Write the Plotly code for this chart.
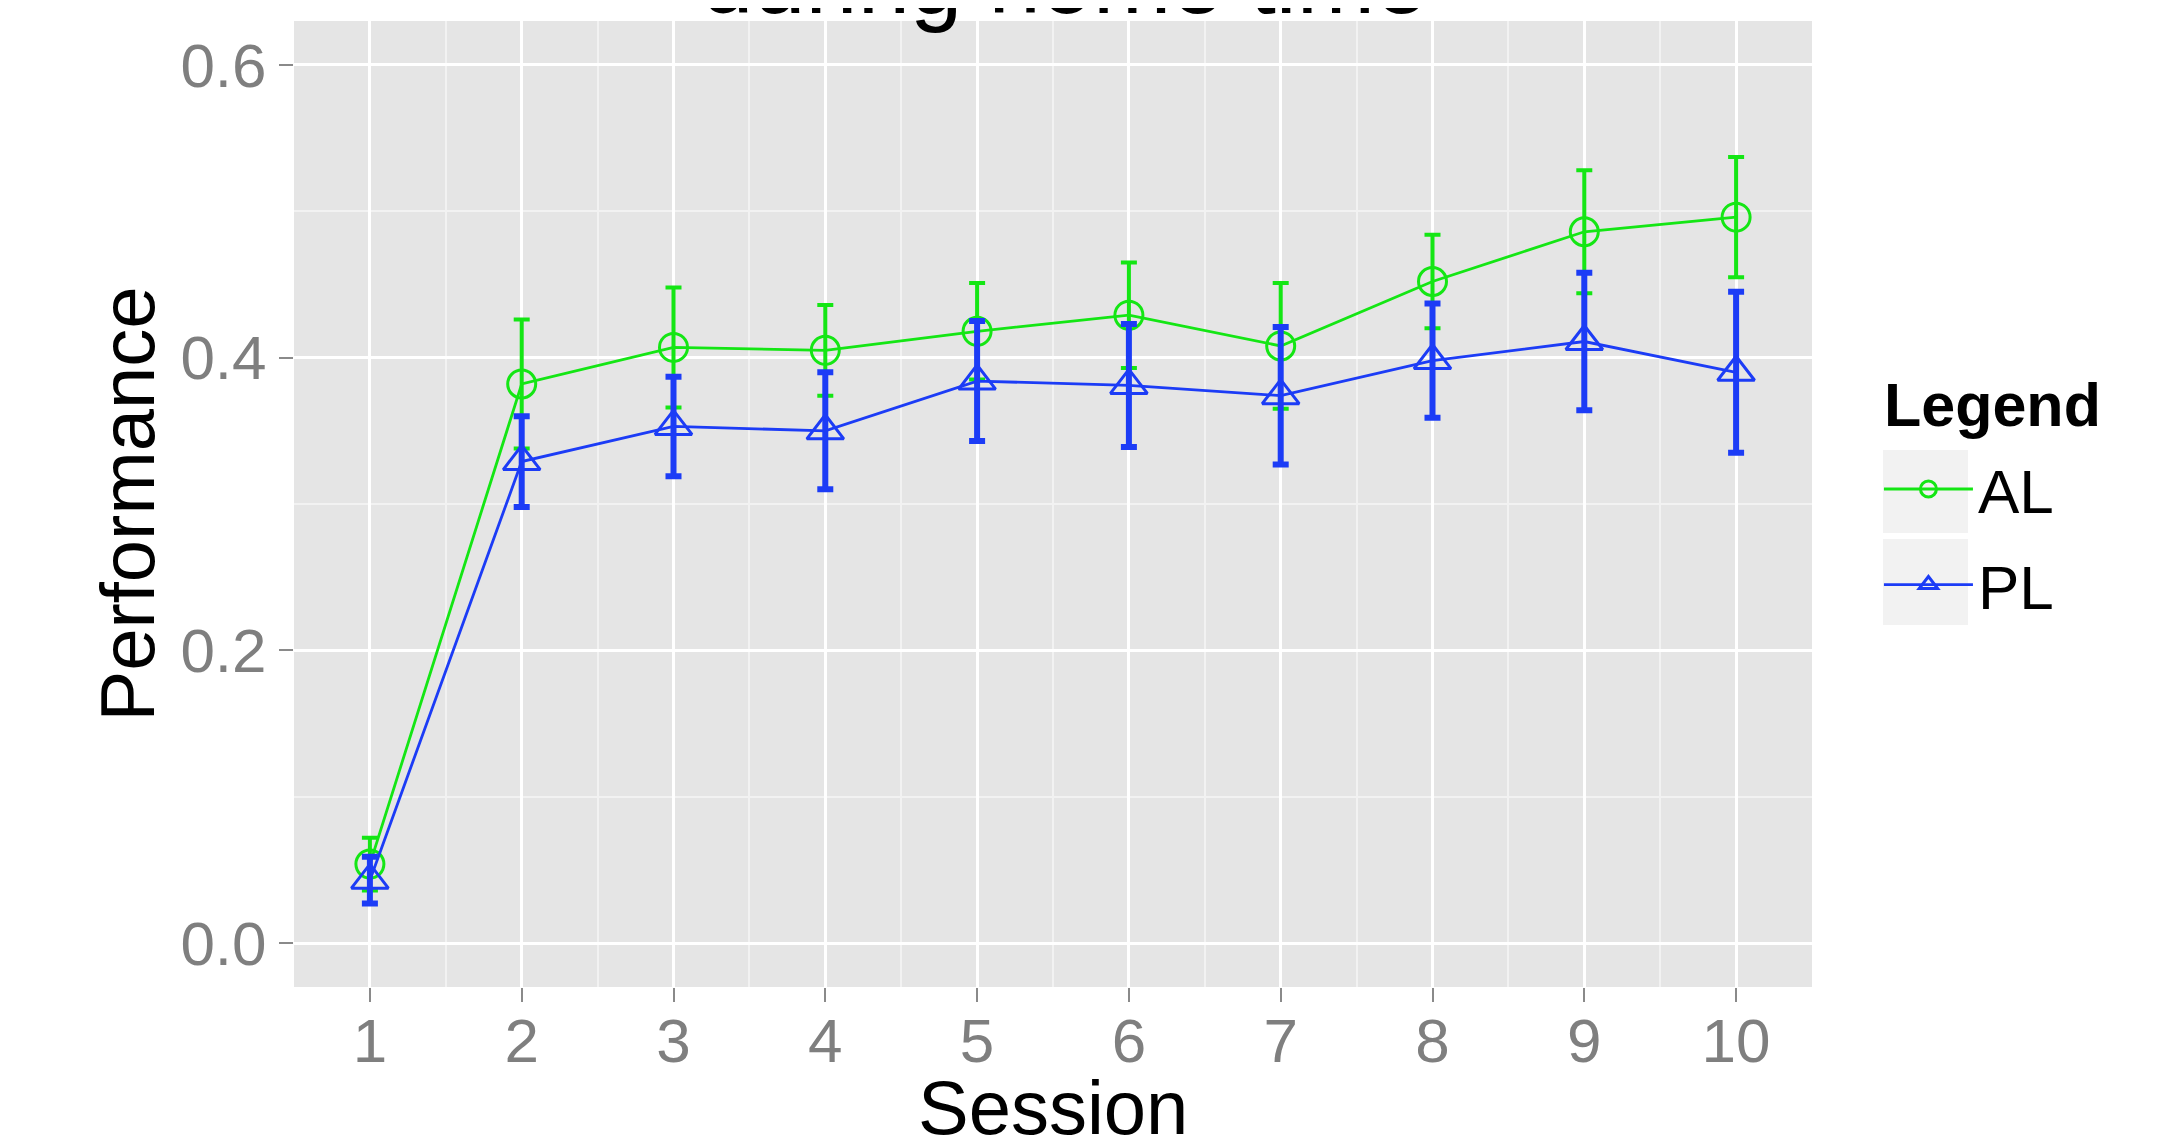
import plotly.graph_objects as go

sessions = [1, 2, 3, 4, 5, 6, 7, 8, 9, 10]
al_mean = [0.054, 0.382, 0.407, 0.405, 0.418, 0.429, 0.408, 0.452, 0.486, 0.496]
al_err = [0.018, 0.044, 0.041, 0.031, 0.033, 0.036, 0.043, 0.032, 0.042, 0.041]
pl_mean = [0.043, 0.329, 0.353, 0.350, 0.384, 0.381, 0.374, 0.398, 0.411, 0.390]
pl_err = [0.016, 0.031, 0.034, 0.040, 0.041, 0.042, 0.047, 0.039, 0.047, 0.055]
y_ticks = [0.0, 0.2, 0.4, 0.6]
y_tick_labels = ["0.0", "0.2", "0.4", "0.6"]

GREEN = "#14e614"
BLUE = "#1c3cf6"
FONT = "Liberation Sans, Arial, Helvetica, sans-serif"

fig = go.Figure()
fig.add_trace(go.Scatter(
    x=sessions, y=al_mean, name="AL", mode="lines+markers", legendgroup="AL",
    line=dict(color=GREEN, width=2.8),
    marker=dict(symbol="circle-open", size=28, color=GREEN, line=dict(width=3, color=GREEN)),
    error_y=dict(type="data", array=al_err, visible=True, color=GREEN, thickness=4, width=8),
))
fig.add_trace(go.Scatter(
    x=sessions, y=pl_mean, name="PL", mode="lines+markers", legendgroup="PL",
    line=dict(color=BLUE, width=2.8),
    marker=dict(symbol="triangle-up-open", size=32, color=BLUE, line=dict(width=3, color=BLUE)),
    error_y=dict(type="data", array=pl_err, visible=True, color=BLUE, thickness=6, width=8),
))

# legend key backgrounds (ggplot style)
for y0, y1 in [(0.4700, 0.5559), (0.3747, 0.4638)]:
    fig.add_shape(type="rect", xref="paper", yref="paper", x0=1.0468, x1=1.1028,
                  y0=y0, y1=y1, fillcolor="#f2f2f2", line=dict(width=0), layer="below")

fig.add_annotation(
    text="during home time", xref="paper", yref="paper", x=0.507, y=0.9855,
    xanchor="center", yanchor="bottom", showarrow=False,
    font=dict(family=FONT, size=94, color="#000000"),
)
fig.add_annotation(
    text="<b>Legend</b>", xref="paper", yref="paper", x=1.0461, y=0.6025,
    xanchor="left", yanchor="middle", showarrow=False,
    font=dict(family=FONT, size=61, color="#000000"),
)
# x-axis title (placed as annotation so it can sit at the very bottom edge)
fig.add_annotation(
    text="Session", xref="paper", yref="paper", x=0.5, y=-0.1712,
    xanchor="center", yanchor="bottom", showarrow=False,
    font=dict(family=FONT, size=76, color="#000000"),
)

fig.update_layout(
    width=2169, height=1134,
    margin=dict(l=286, r=365, t=13, b=155, autoexpand=False),
    paper_bgcolor="#ffffff", plot_bgcolor="#e5e5e5",
    font=dict(family=FONT, color="#000000"),
    showlegend=True,
    legend=dict(
        x=1.0441, y=0.564, xanchor="left", yanchor="top",
        font=dict(size=62, color="#000000"),
        bgcolor="rgba(0,0,0,0)", tracegroupgap=12, itemwidth=89,
    ),
    xaxis=dict(
        range=[0.5, 10.5], tickmode="array", tickvals=sessions,
        ticktext=[str(s) for s in sessions],
        showgrid=True, gridcolor="#ffffff", gridwidth=2.5,
        minor=dict(dtick=0.5, tick0=0.5, showgrid=True, gridcolor="#f2f2f2", gridwidth=1.5, ticks=""),
        zeroline=False, showline=False,
        ticks="outside", ticklen=14, tickwidth=2, tickcolor="#8a8a8a",
        ticklabelstandoff=-14,
        tickfont=dict(size=62, color="#7f7f7f"),
    ),
    yaxis=dict(
        range=[-0.03, 0.63], tickmode="array", tickvals=y_ticks, ticktext=y_tick_labels,
        showgrid=True, gridcolor="#ffffff", gridwidth=2.5,
        minor=dict(dtick=0.1, tick0=0.1, showgrid=True, gridcolor="#f2f2f2", gridwidth=1.5, ticks=""),
        zeroline=False, showline=False,
        ticks="outside", ticklen=14, tickwidth=2, tickcolor="#8a8a8a",
        tickfont=dict(size=62, color="#7f7f7f"),
        title=dict(text="Performance", font=dict(size=76, color="#000000"), standoff=0),
    ),
)

fig.write_html("out.html", config={"displayModeBar": False})
